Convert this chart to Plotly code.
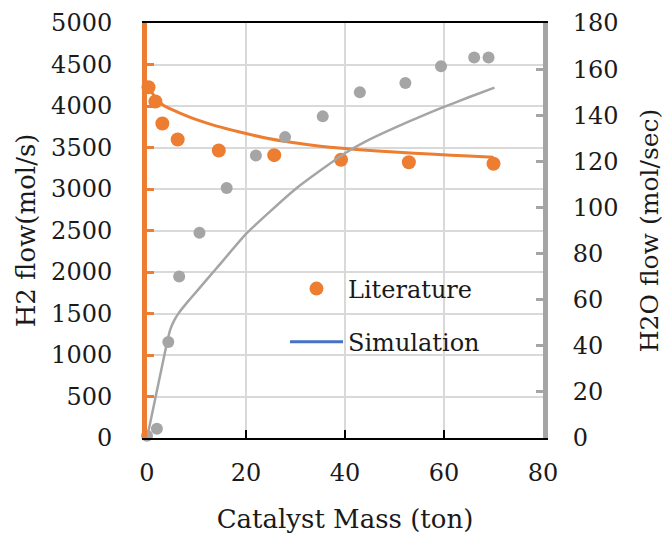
import plotly.graph_objects as go

# ---- data ----
mass_lit_h2 = [0.3, 1.7, 3.1, 6.2, 14.5, 25.7, 39.2, 52.9, 70.0]
h2_lit = [4225, 4055, 3790, 3597, 3464, 3408, 3352, 3323, 3304]

mass_sim_h2 = [0, 0.4, 1.6, 3.3, 5.3, 8, 10, 13.4, 17, 20, 24, 28, 33, 37, 43, 50, 58, 65, 70]
h2_sim = [4265, 4220, 4110, 4010, 3950, 3880, 3835, 3770, 3712, 3668, 3615, 3572, 3530, 3503, 3472, 3445, 3418, 3398, 3384]

mass_lit_h2o = [0, 2.0, 4.3, 6.5, 10.6, 16.1, 22.0, 27.9, 35.5, 43.0, 52.2, 59.4, 66.1, 69.0]
h2o_lit = [1, 4, 41.6, 70, 89, 108.4, 122.5, 130.5, 139.5, 150, 154, 161.2, 165, 165]

mass_sim_h2o = [0, 4.0, 4.7, 5.5, 6.5, 8, 10, 14, 20, 25, 30, 35, 40, 45, 50, 55, 60, 65, 70.2]
h2o_sim = [0, 41, 47, 51, 54.5, 58.5, 63.5, 73.5, 88.5, 98.5, 108, 116, 123.5, 129.5, 134.5, 139.2, 143.6, 147.8, 152]

x_ticks = [0, 20, 40, 60, 80]
h2_ticks = list(range(0, 5001, 500))
h2o_ticks = list(range(0, 181, 20))

ORANGE = "#ED7D31"
GRAY = "#A5A5A5"
BLUE = "#4472C4"
GRID = "#D9D9D9"
TXT = "#1a1a1a"
FONT = "DejaVu Serif"
TICK_SIZE = 24
TITLE_SIZE = 26
LEG_SIZE = 24

fig = go.Figure()
fig.add_trace(go.Scatter(x=mass_sim_h2, y=h2_sim, mode="lines",
                         line=dict(color=ORANGE, width=3, shape="spline", smoothing=0.5),
                         showlegend=False, hoverinfo="skip"))
fig.add_trace(go.Scatter(x=mass_lit_h2, y=h2_lit, mode="markers",
                         marker=dict(color=ORANGE, size=14),
                         showlegend=False, cliponaxis=False))
fig.add_trace(go.Scatter(x=mass_lit_h2o, y=h2o_lit, mode="markers", yaxis="y2",
                         marker=dict(color=GRAY, size=12),
                         showlegend=False, cliponaxis=False))
fig.add_trace(go.Scatter(x=mass_sim_h2o, y=h2o_sim, mode="lines", yaxis="y2",
                         line=dict(color=GRAY, width=2.5, shape="spline", smoothing=0.4),
                         showlegend=False))
# legend entries
fig.add_trace(go.Scatter(x=[None], y=[None], mode="markers", name="Literature",
                         marker=dict(color=ORANGE, size=14), legendgroup="a"))
fig.add_trace(go.Scatter(x=[None], y=[None], mode="lines", name="Simulation",
                         line=dict(color=BLUE, width=3), legendgroup="b"))

L, R, T, B = 147, 121, 23, 98
W, H = 664, 536
pw, ph = W - L - R, H - T - B

def px_x(p):
    return (p - L) / pw

def px_y(p):
    return (H - B - p) / ph

fig.add_shape(type="rect", xref="paper", yref="paper", layer="between",
              x0=px_x(266), x1=px_x(490), y0=px_y(373), y1=px_y(260),
              fillcolor="white", line=dict(width=0))

tickfont = dict(family=FONT, size=TICK_SIZE, color=TXT)

fig.update_layout(
    width=W, height=H,
    margin=dict(l=L, r=R, t=T, b=B, autoexpand=False),
    paper_bgcolor="white", plot_bgcolor="white",
    font=dict(family=FONT, size=TICK_SIZE, color=TXT),
    xaxis=dict(range=[0, 80], tickvals=x_ticks, showgrid=True, gridcolor=GRID, gridwidth=2,
               zeroline=False, showline=True, linecolor="black", linewidth=2, mirror=True,
               ticks="inside", ticklen=8, tickwidth=2, tickcolor="black",
               ticklabelstandoff=12, automargin=False, tickfont=tickfont,
               title=dict(text="Catalyst Mass (ton)", font=dict(family=FONT, size=26, color=TXT), standoff=24)),
    yaxis=dict(range=[0, 5000], tickvals=h2_ticks, showgrid=True, gridcolor=GRID, gridwidth=2,
               zeroline=False, showline=True, linecolor=ORANGE, linewidth=5,
               ticks="inside", ticklen=7, tickwidth=3, tickcolor=ORANGE,
               ticklabelstandoff=25, automargin=False, tickfont=tickfont,
               title=dict(text="H2 flow(mol/s)", font=dict(family=FONT, size=26, color=TXT), standoff=10)),
    yaxis2=dict(range=[0, 180], tickvals=h2o_ticks, overlaying="y", side="right",
                showgrid=False, zeroline=False, showline=True, linecolor=GRAY, linewidth=5,
                ticks="inside", ticklen=7, tickwidth=3, tickcolor=GRAY,
                ticklabelstandoff=20, automargin=False, tickfont=tickfont,
                title=dict(text="H2O flow (mol/sec)", font=dict(family=FONT, size=25, color=TXT), standoff=33)),
    legend=dict(x=px_x(285), y=px_y(266.5), xanchor="left", yanchor="top",
                bgcolor="rgba(0,0,0,0)", font=dict(size=LEG_SIZE, family=FONT, color=TXT),
                tracegroupgap=19, traceorder="grouped", itemwidth=53),
    showlegend=True,
)

fig.write_html("out.html")
